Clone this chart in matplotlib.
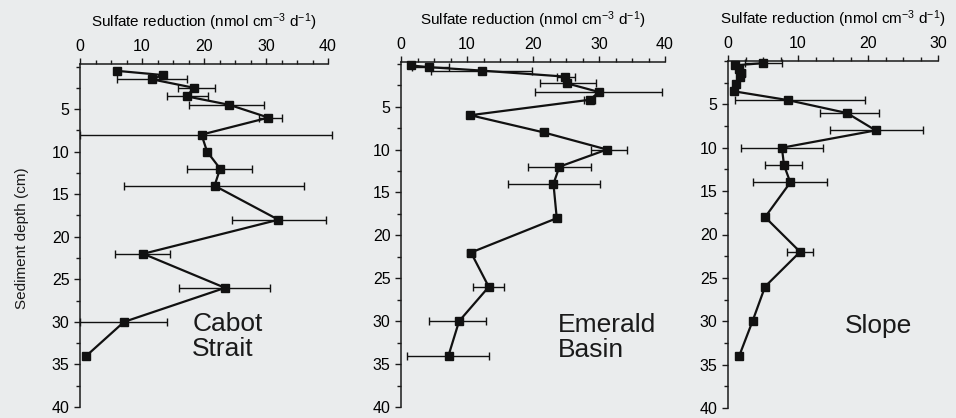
import numpy as np
import matplotlib
matplotlib.use("Agg")
import matplotlib.pyplot as plt
from matplotlib.ticker import MultipleLocator

plt.rcParams['font.family'] = ['Liberation Sans', 'DejaVu Sans']
plt.rcParams['mathtext.fontset'] = 'custom'
plt.rcParams['mathtext.rm'] = 'Liberation Sans'
plt.rcParams['mathtext.it'] = 'Liberation Sans:italic'
plt.rcParams['text.color'] = '#1a1a1a'

# Cabot Strait: depth (cm), rate (nmol cm-3 d-1), lower/upper error
cabot_depth = [0.5, 1, 1.5, 2.5, 3.5, 4.5, 6, 8, 10, 12, 14, 18, 22, 26, 30, 34]
cabot_rate = [5.9, 13.4, 11.6, 18.4, 17.2, 24.1, 30.4, 19.6, 20.5, 22.6, 21.7, 32.0, 10.2, 23.4, 7.1, 1.0]
cabot_lo = [0, 0, 5.6, 2.6, 3.2, 6.6, 1.5, 19.6, 0, 5.3, 14.6, 7.5, 4.6, 7.4, 7.1, 0]
cabot_hi = [0, 0, 5.6, 3.4, 3.5, 5.5, 2.1, 21.0, 0, 5.2, 14.5, 7.7, 4.3, 7.2, 6.9, 0]

# Emerald Basin
emerald_depth = [0.2, 0.4, 0.8, 1.5, 2.3, 3.3, 4.2, 6, 8, 10, 12, 14, 18, 22, 26, 30, 34]
emerald_rate = [1.5, 4.2, 12.2, 24.8, 25.2, 30.0, 28.6, 10.5, 21.6, 31.2, 24.0, 23.1, 23.6, 10.6, 13.3, 8.8, 7.2]
emerald_lo = [0, 2.6, 7.6, 1.2, 4.1, 9.7, 0.8, 0, 0.5, 2.4, 4.7, 6.9, 0.5, 0.6, 2.4, 4.6, 6.3]
emerald_hi = [0, 3.0, 7.6, 1.6, 4.4, 9.5, 0.8, 0, 0.5, 3.1, 4.8, 7.0, 0.5, 0.6, 2.3, 4.1, 6.2]

# Slope
slope_depth = [0.25, 0.5, 0.9, 1.4, 1.9, 2.7, 3.5, 4.5, 6, 8, 10, 12, 14, 18, 22, 26, 30, 34]
slope_rate = [5.0, 1.0, 1.5, 1.9, 1.7, 1.2, 0.9, 8.5, 17.0, 21.1, 7.7, 8.0, 8.9, 5.3, 10.3, 5.3, 3.5, 1.6]
slope_lo = [2.6, 0, 0, 0.5, 0, 0, 0, 7.5, 3.9, 6.5, 5.9, 2.7, 5.3, 0, 1.9, 0, 0, 0]
slope_hi = [2.7, 0, 0, 0.5, 0, 0, 0, 11.1, 4.5, 6.8, 5.9, 2.5, 5.2, 0, 1.9, 0, 0, 0]

W, H = 956, 418
fig = plt.figure(figsize=(W / 100, H / 100), dpi=100)
fig.patch.set_facecolor('#eaeced')


def px_axes(left, right, top, bottom):
    return fig.add_axes([left / W, 1 - bottom / H, (right - left) / W, (bottom - top) / H])


def draw_profile(ax, depth, rate, lo, hi, xmax, ytop, name, name_xy):
    depth = np.asarray(depth)
    rate = np.asarray(rate)
    lo = np.asarray(lo)
    hi = np.asarray(hi)
    has_err = (lo > 0) | (hi > 0)
    eb = ax.errorbar(rate[has_err], depth[has_err], xerr=[lo[has_err], hi[has_err]],
                     fmt='none', ecolor='#111111', elinewidth=1.0, capsize=2.6, capthick=1.0)
    for part in eb.lines[1] + eb.lines[2]:
        part.set_clip_on(False)
    ax.plot(rate, depth, '-s', color='#111111', lw=1.6, ms=5.8, clip_on=False, zorder=3)

    ax.set_xlim(0, xmax)
    ax.set_ylim(40, ytop)
    ax.set_facecolor('none')
    for s in ('right', 'bottom'):
        ax.spines[s].set_visible(False)
    for s in ('left', 'top'):
        ax.spines[s].set_linewidth(1.1)
        ax.spines[s].set_color('#1a1a1a')
    ax.xaxis.set_ticks_position('top')
    ax.xaxis.set_label_position('top')
    ax.xaxis.set_major_locator(MultipleLocator(10))
    ax.xaxis.set_minor_locator(MultipleLocator(2.5))
    ax.set_yticks(np.arange(5, 41, 5))
    ax.yaxis.set_minor_locator(MultipleLocator(2.5))
    ax.tick_params(which='both', direction='out', color='#1a1a1a', width=1.0, labelsize=11.5)
    ax.tick_params(which='major', length=4.5, pad=3)
    ax.tick_params(which='minor', length=3)
    ax.set_xlabel(r'Sulfate reduction (nmol cm$^{-3}$ d$^{-1}$)', fontsize=11, labelpad=8)
    ax.text(name_xy[0], name_xy[1], name, ha='left', va='top', fontsize=19, linespacing=1.05)


ax1 = px_axes(80, 328, 64, 407)
draw_profile(ax1, cabot_depth, cabot_rate, cabot_lo, cabot_hi, 40, -0.3,
             'Cabot\nStrait', (18.1, 28.8))

ax2 = px_axes(401, 665, 62, 407)
draw_profile(ax2, emerald_depth, emerald_rate, emerald_lo, emerald_hi, 40, -0.2,
             'Emerald\nBasin', (23.8, 29.0))

ax3 = px_axes(728, 938, 61, 408)
draw_profile(ax3, slope_depth, slope_rate, slope_lo, slope_hi, 30, 0,
             'Slope', (16.7, 29.2))

fig.text(22 / W, 1 - 238 / H, 'Sediment depth (cm)', rotation=90,
         ha='center', va='center', fontsize=11)

fig.savefig('out.png', dpi=100, facecolor=fig.get_facecolor())
